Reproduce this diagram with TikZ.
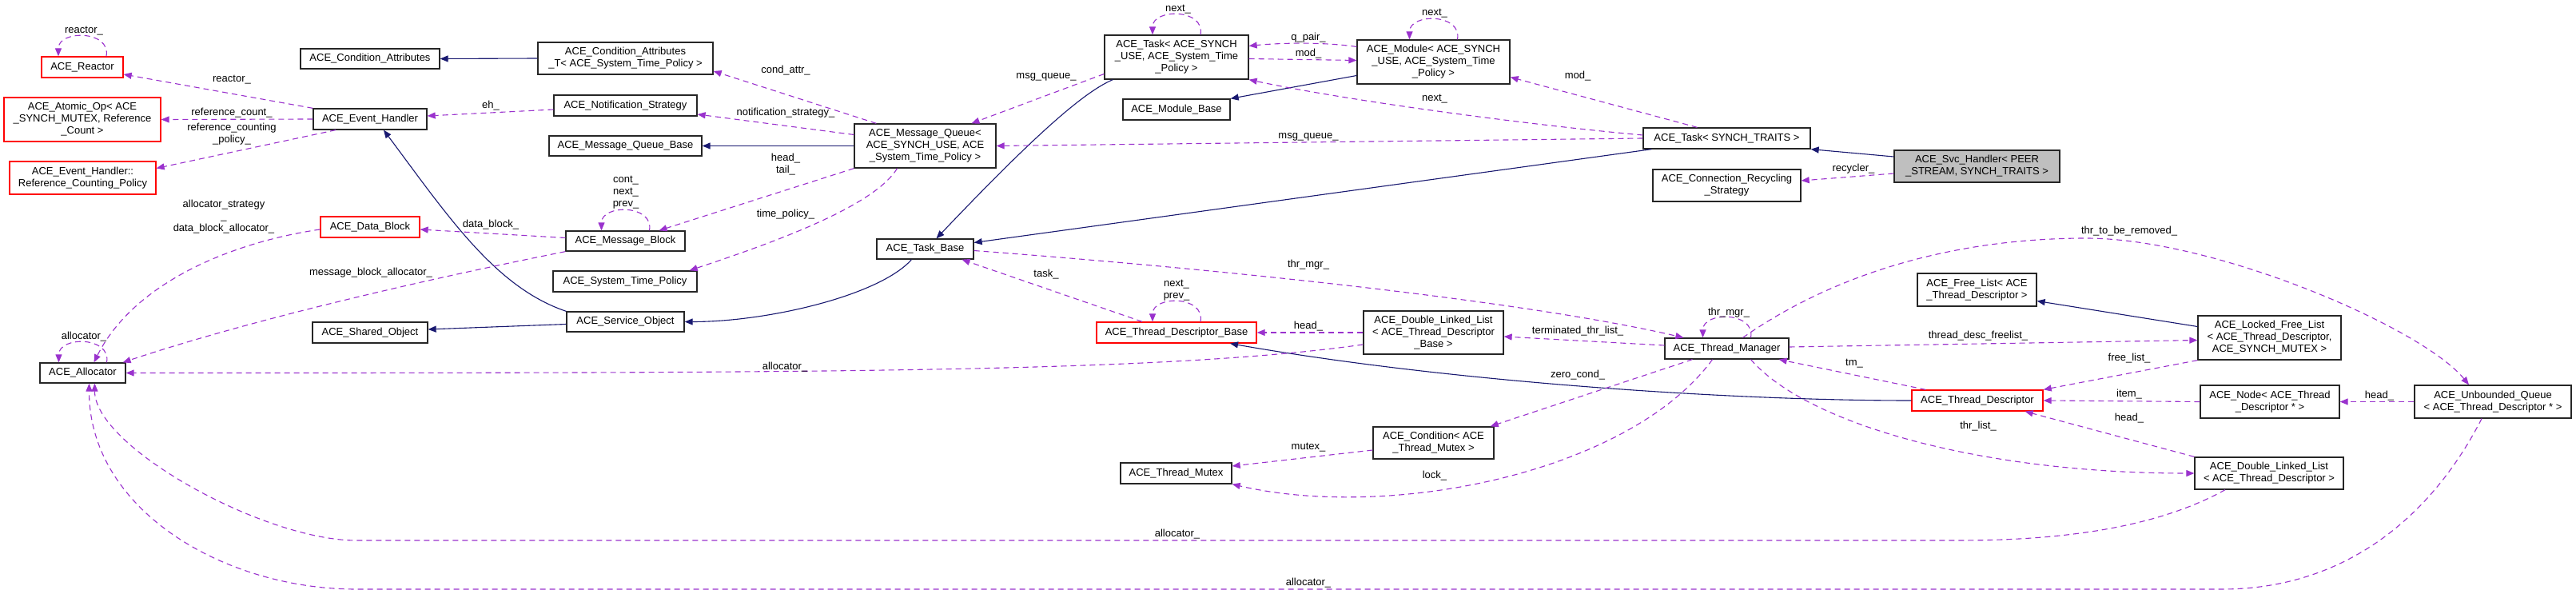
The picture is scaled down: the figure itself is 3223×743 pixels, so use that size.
\documentclass[tikz,border=0pt]{standalone}
\usepackage{fontspec}
\setmainfont{Liberation Sans}
\usetikzlibrary{arrows.meta}
\definecolor{edgeblue}{HTML}{191970}
\definecolor{edgepurple}{HTML}{9A32CD}
\begin{document}
\begin{tikzpicture}[x=1pt, y=-1pt, font=\fontsize{13}{15}\selectfont, >={Triangle[length=10pt,width=8pt]},
	cls/.style={draw=black!85, fill=white, line width=1.3pt, align=center},
	redcls/.style={cls, draw=red},
	maincls/.style={cls, fill=black!25},
	inh/.style={->, edgeblue, line width=1.1pt},
	use/.style={->, edgepurple, line width=1.1pt, dash pattern=on 7pt off 5pt},
	lbl/.style={align=center, inner sep=0pt}]
	\useasboundingbox (0,0) rectangle (3223,743);
	% classes
	\node[redcls, minimum width=102, minimum height=26] (reactor) at (103,84) {ACE\_Reactor};
	\node[cls, minimum width=174, minimum height=25] (condattr) at (463,73.5) {ACE\_Condition\_Attributes};
	\node[redcls, minimum width=196, minimum height=55] (atomic) at (103,149.5) {ACE\_Atomic\_Op< ACE\\\_SYNCH\_MUTEX, Reference\\\_Count >};
	\node[cls, minimum width=142, minimum height=26] (evh) at (463,149) {ACE\_Event\_Handler};
	\node[redcls, minimum width=183, minimum height=41] (refpol) at (103.5,222.5) {ACE\_Event\_Handler::\\Reference\_Counting\_Policy};
	\node[redcls, minimum width=124, minimum height=26] (datablk) at (463,284) {ACE\_Data\_Block};
	\node[cls, minimum width=107, minimum height=25] (alloc) at (103.5,466.5) {ACE\_Allocator};
	\node[cls, minimum width=144, minimum height=26] (shobj) at (463,416) {ACE\_Shared\_Object};
	\node[cls, minimum width=219, minimum height=40] (condattrT) at (782.5,73) {ACE\_Condition\_Attributes\\\_T< ACE\_System\_Time\_Policy >};
	\node[cls, minimum width=179, minimum height=26] (notif) at (782.5,132) {ACE\_Notification\_Strategy};
	\node[cls, minimum width=191, minimum height=25] (mqbase) at (782.5,182.5) {ACE\_Message\_Queue\_Base};
	\node[cls, minimum width=149, minimum height=25] (msgblk) at (782.5,301.5) {ACE\_Message\_Block};
	\node[cls, minimum width=180, minimum height=26] (systime) at (782,352) {ACE\_System\_Time\_Policy};
	\node[cls, minimum width=147, minimum height=25] (svcobj) at (782.5,402.5) {ACE\_Service\_Object};
	\node[cls, minimum width=177, minimum height=55] (mq) at (1157.5,182.5) {ACE\_Message\_Queue<\\ACE\_SYNCH\_USE, ACE\\\_System\_Time\_Policy >};
	\node[cls, minimum width=121, minimum height=25] (taskbase) at (1157.5,311.5) {ACE\_Task\_Base};
	\node[cls, minimum width=180, minimum height=55] (acetask) at (1472,71.5) {ACE\_Task< ACE\_SYNCH\\\_USE, ACE\_System\_Time\\\_Policy >};
	\node[cls, minimum width=134, minimum height=26] (modbase) at (1472,137) {ACE\_Module\_Base};
	\node[redcls, minimum width=200, minimum height=26] (tdb) at (1472,416) {ACE\_Thread\_Descriptor\_Base};
	\node[cls, minimum width=139, minimum height=26] (mutex) at (1471.5,592) {ACE\_Thread\_Mutex};
	\node[cls, minimum width=191, minimum height=55] (module) at (1793.5,77.5) {ACE\_Module< ACE\_SYNCH\\\_USE, ACE\_System\_Time\\\_Policy >};
	\node[cls, minimum width=175, minimum height=54] (dlltdb) at (1793.5,416) {ACE\_Double\_Linked\_List\\< ACE\_Thread\_Descriptor\\\_Base >};
	\node[cls, minimum width=151, minimum height=40] (cond) at (1793.5,554) {ACE\_Condition< ACE\\\_Thread\_Mutex >};
	\node[cls, minimum width=209, minimum height=26] (task) at (2160.5,173) {ACE\_Task< SYNCH\_TRAITS >};
	\node[cls, minimum width=185, minimum height=40] (recyc) at (2160.5,232) {ACE\_Connection\_Recycling\\\_Strategy};
	\node[cls, minimum width=155, minimum height=26] (thrmgr) at (2160.5,436) {ACE\_Thread\_Manager};
	\node[maincls, minimum width=207, minimum height=40] (svc) at (2473.5,208) {ACE\_Svc\_Handler< PEER\\\_STREAM, SYNCH\_TRAITS >};
	\node[cls, minimum width=149, minimum height=41] (freelist) at (2473.5,362.5) {ACE\_Free\_List< ACE\\\_Thread\_Descriptor >};
	\node[redcls, minimum width=164, minimum height=26] (td) at (2474,501) {ACE\_Thread\_Descriptor};
	\node[cls, minimum width=179, minimum height=55] (locked) at (2839.5,422.5) {ACE\_Locked\_Free\_List\\< ACE\_Thread\_Descriptor,\\ACE\_SYNCH\_MUTEX >};
	\node[cls, minimum width=174, minimum height=41] (tdnode) at (2840,502.5) {ACE\_Node< ACE\_Thread\\\_Descriptor * >};
	\node[cls, minimum width=186, minimum height=40] (dlltd) at (2839,592) {ACE\_Double\_Linked\_List\\< ACE\_Thread\_Descriptor >};
	\node[cls, minimum width=196, minimum height=41] (uq) at (3119,502.5) {ACE\_Unbounded\_Queue\\< ACE\_Thread\_Descriptor * >};
	% self references
	\foreach \n in {reactor,alloc,msgblk,acetask,module,tdb,thrmgr}{
	\draw[use] ([xshift=30]\n.north) .. controls +(6,-33) and +(0,-33) .. ([xshift=-30]\n.north);
	}
	% inheritance
	\draw[inh] (condattrT.west) -- (condattr.east);
	\draw[inh] (mq.west) -- (mqbase.east);
	\draw[inh] (svcobj.north west) .. controls +(-89,-30) and +(80,107) .. ([xshift=17]evh.south);
	\draw[inh] ([yshift=-3]svcobj.west) -- ([yshift=4]shobj.east);
	\draw[inh] ([xshift=-17]taskbase.south) .. controls +(-40,45) and +(104,0) .. (svcobj.east);
	\draw[inh] ([xshift=11]acetask.south west) .. controls +(-38,16) and +(118,-124) .. ([xshift=14]taskbase.north);
	\draw[inh] ([xshift=11]task.south west) -- ([yshift=8]taskbase.east);
	\draw[inh] ([yshift=-17]module.west) -- (modbase.north east);
	\draw[inh] ([yshift=12]svc.west) -- (task.south east);
	\draw[inh] (td.west) .. controls +(-242,0) and +(261,46) .. ([xshift=67]tdb.south);
	\draw[inh] ([yshift=14]locked.west) -- ([yshift=-14]freelist.east);
	% members
	\draw[use] (evh.north west) -- ([yshift=-9]reactor.east);
	\draw[use] (evh.west) -- (atomic.east);
	\draw[use] ([xshift=-43]evh.south) -- ([yshift=12]refpol.east);
	\draw[use] ([yshift=-5]notif.west) -- ([yshift=4]evh.east);
	\draw[use] ([xshift=28]mq.north west) -- ([yshift=-16]condattrT.east);
	\draw[use] ([yshift=14]mq.west) -- ([yshift=-11]notif.east);
	\draw[use] (mq.south west) -- ([xshift=42]msgblk.north);
	\draw[use] ([xshift=-35]mq.south) .. controls +(-30,50) and +(90,-30) .. ([xshift=-10]systime.north east);
	\draw[use] ([yshift=4]msgblk.west) -- ([yshift=-3]datablk.east);
	\draw[use] ([yshift=-3]datablk.west) .. controls +(-110,16) and +(50,-100) .. ([xshift=14]alloc.north);
	\draw[use] (msgblk.south west) .. controls +(-200,40) and +(150,-50) .. ([xshift=-4]alloc.north east);
	\draw[use] ([yshift=-21]acetask.west) -- ([xshift=58]mq.north);
	\draw[use] (task.west) -- (mq.east);
	\draw[use] ([yshift=4]task.west) .. controls +(-155,-14) and +(117,25) .. (acetask.south east);
	\draw[use] ([xshift=-37]task.north) -- ([yshift=-19]module.east);
	\draw[use] ([yshift=-9]svc.west) -- ([yshift=6]recyc.east);
	\draw[use] ([yshift=-2]acetask.east) -- ([yshift=2]module.west);
	\draw[use] ([yshift=19]module.west) .. controls +(-40,-6) and +(40,-4) .. ([yshift=14]acetask.east);
	\draw[use] ([xshift=-43]tdb.north) -- ([xshift=46]taskbase.south);
	\draw[use] ([yshift=-2]taskbase.east) .. controls +(282,21) and +(-207,-48) .. ([xshift=24]thrmgr.north west);
	\draw[use] (dlltdb.west) -- (tdb.east);
	\draw[use] ([yshift=-15]dlltdb.west) .. controls +(-256,36) and +(843,0) .. (alloc.east);
	\draw[use] ([yshift=4]thrmgr.west) -- ([yshift=-5]dlltdb.east);
	\draw[use] ([xshift=-43]thrmgr.south) -- ([xshift=-5]cond.north east);
	\draw[use] ([xshift=-18]thrmgr.south) .. controls +(-103,141) and +(199,46) .. (mutex.south east);
	\draw[use] ([yshift=-9]cond.west) -- ([yshift=9]mutex.east);
	\draw[use] ([xshift=18]td.north west) -- ([xshift=-13]thrmgr.south east);
	\draw[use] ([yshift=2]thrmgr.east) -- ([yshift=-3]locked.west);
	\draw[use] (locked.south west) -- (td.north east);
	\draw[use] (tdnode.west) -- (td.east);
	\draw[use] (dlltd.north west) -- ([xshift=-23]td.south east);
	\draw[use] ([xshift=30]thrmgr.south) .. controls +(70,81) and +(-266,0) .. (dlltd.west);
	\draw[use] ([xshift=-55]dlltd.south) .. controls +(-90,50) and +(120,0) .. (2450,676) -- (446,676) .. controls +(-116,0) and +(0,79) .. ([xshift=15]alloc.south);
	\draw[use] ([xshift=-14]uq.south) .. controls +(-65,127) and +(150,0) .. (2780,737) -- (446,737) .. controls +(-166,0) and +(0,158) .. ([xshift=8]alloc.south);
	\draw[use] ([xshift=20]thrmgr.north) .. controls +(119,-83) and +(-160,0) .. (2610,298) .. controls +(160,0) and +(-59,-72) .. ([xshift=-30]uq.north);
	\draw[use] (uq.west) -- (tdnode.east);
	% labels
	\foreach \x/\y/\txt [count=\i] in {105/39/{reactor\_}, 290/100/{reactor\_}, 290/141/{reference\_count\_},
		290/168/{reference\_counting\\\_policy\_}, 280/271/{allocator\_strategy\\\_\\data\_block\_allocator\_},
		614/132/{eh\_}, 614/281/{data\_block\_}, 464/341/{message\_block\_allocator\_}, 105/421/{allocator\_},
		983/88/{cond\_attr\_}, 983/141/{notification\_strategy\_}, 983/206/{head\_\\tail\_}, 983/268/{time\_policy\_},
		783/241/{cont\_\\next\_\\prev\_}, 1309/96/{msg\_queue\_}, 1309/343/{task\_}, 982/459/{allocator\_},
		1474/12/{next\_}, 1795/17/{next\_}, 1637/47/{q\_pair\_}, 1637/67/{mod\_}, 1974/95/{mod\_}, 1795/124/{next\_},
		1637/171/{msg\_queue\_}, 1637/331/{thr\_mgr\_}, 1472/363/{next\_\\prev\_}, 1637/408/{head\_},
		1974/414/{terminated\_thr\_list\_}, 1974/469/{zero\_cond\_}, 1637/560/{mutex\_}, 1795/595/{lock\_},
		1473/668/{allocator\_}, 1637/729/{allocator\_}, 2319/211/{recycler\_}, 2664/289/{thr\_to\_be\_removed\_},
		2163/391/{thr\_mgr\_}, 2475/420/{thread\_desc\_freelist\_}, 2320/455/{tm\_}, 2664/448/{free\_list\_},
		2664/493/{item\_}, 2664/523/{head\_}, 2475/533/{thr\_list\_}, 2977/495/{head\_}}{
	\node[lbl] (lab\i) at (\x,\y) {\txt};
	}
\end{tikzpicture}
\end{document}
